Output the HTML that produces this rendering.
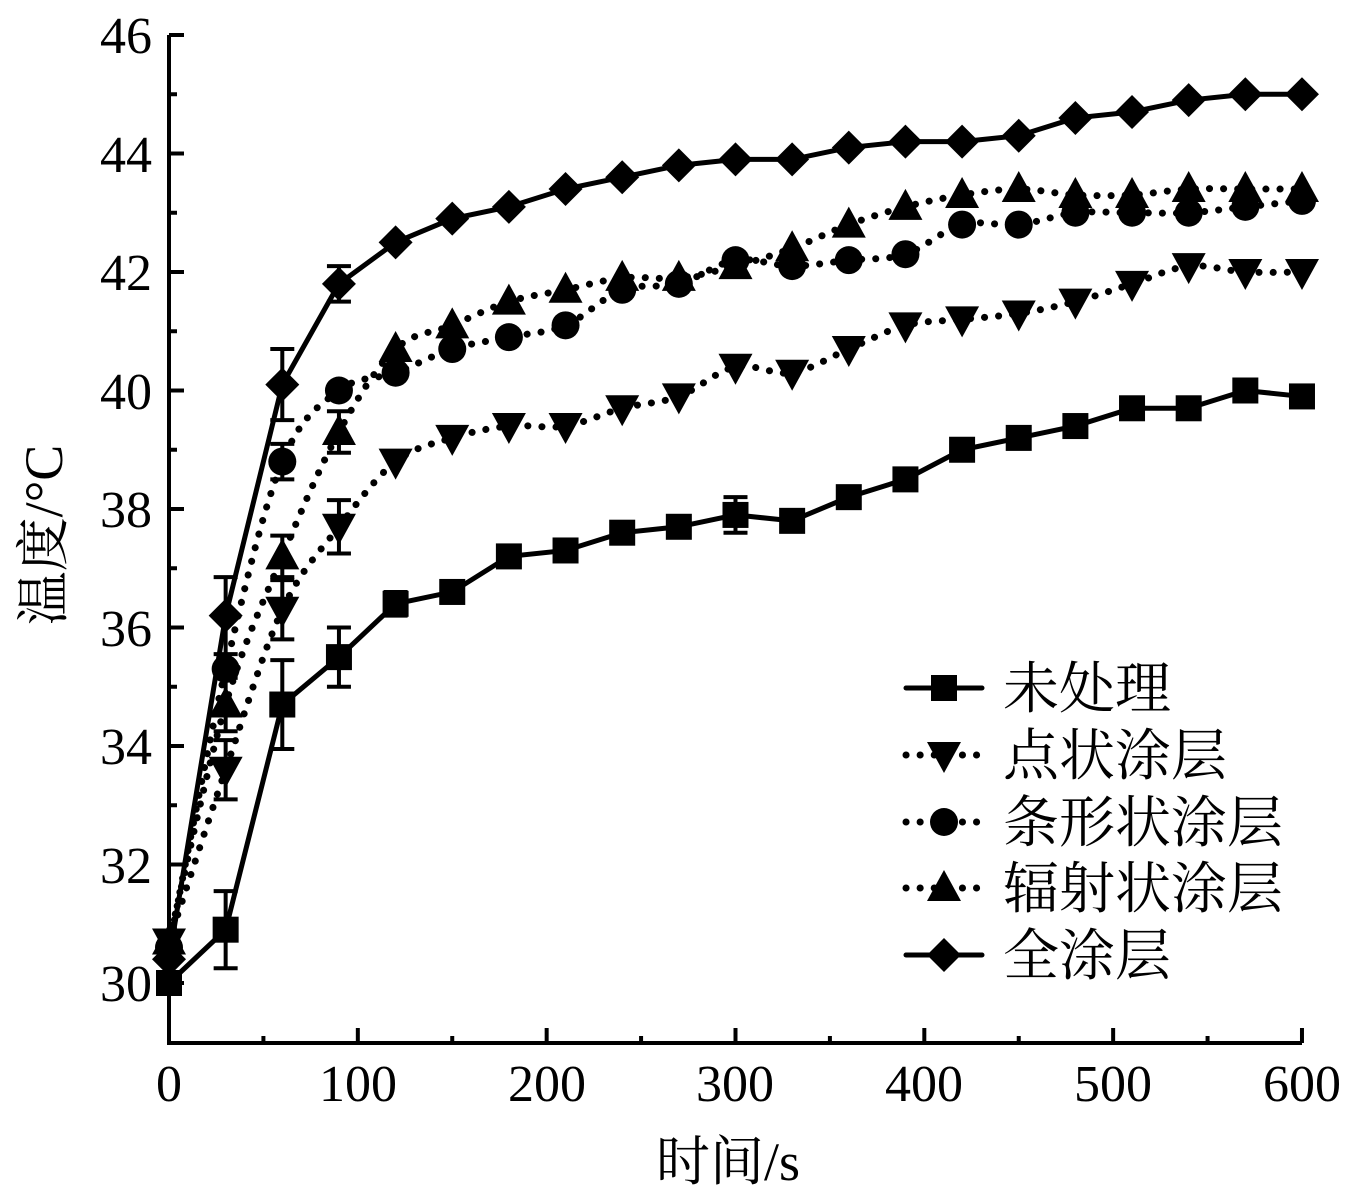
<!DOCTYPE html>
<html><head><meta charset="utf-8"><style>
html,body{margin:0;padding:0;background:#fff;}
svg{display:block}
</style></head><body>
<svg id="s" width="1365" height="1191" xmlns="http://www.w3.org/2000/svg">
<g font-family="'Liberation Serif','Noto Serif CJK SC',serif" fill="#000">
<text x="152" y="53" font-size="52" text-anchor="end">46</text>
<text x="152" y="172" font-size="52" text-anchor="end">44</text>
<text x="152" y="290" font-size="52" text-anchor="end">42</text>
<text x="152" y="409" font-size="52" text-anchor="end">40</text>
<text x="152" y="527" font-size="52" text-anchor="end">38</text>
<text x="152" y="646" font-size="52" text-anchor="end">36</text>
<text x="152" y="764" font-size="52" text-anchor="end">34</text>
<text x="152" y="883" font-size="52" text-anchor="end">32</text>
<text x="152" y="1001" font-size="52" text-anchor="end">30</text>
<text x="169" y="1101" font-size="52" text-anchor="middle">0</text>
<text x="358" y="1101" font-size="52" text-anchor="middle">100</text>
<text x="547" y="1101" font-size="52" text-anchor="middle">200</text>
<text x="735" y="1101" font-size="52" text-anchor="middle">300</text>
<text x="924" y="1101" font-size="52" text-anchor="middle">400</text>
<text x="1113" y="1101" font-size="52" text-anchor="middle">500</text>
<text x="1302" y="1101" font-size="52" text-anchor="middle">600</text>
<text x="728" y="1180" font-size="54" text-anchor="middle">时间/s</text>
<text transform="translate(62,535) rotate(-90)" font-size="54" text-anchor="middle">温度/°C</text>
<text x="1003" y="708" font-size="56">未处理</text>
<text x="1003" y="775" font-size="56">点状涂层</text>
<text x="1003" y="842" font-size="56">条形状涂层</text>
<text x="1003" y="908" font-size="56">辐射状涂层</text>
<text x="1003" y="975" font-size="56">全涂层</text>
</g>
<g id="plot"></g>
</svg>
<script>
var NS="http://www.w3.org/2000/svg",g=document.getElementById('plot');
function el(t,a){var e=document.createElementNS(NS,t);for(var k in a)e.setAttribute(k,a[k]);g.appendChild(e);return e;}
function X(v){return 169+v*1.8883;}
function Y(v){return 983-(v-30)*59.25;}
el('path',{d:'M169,35 L169,1043 L1302,1043',fill:'none',stroke:'#000','stroke-width':4});
for(var v=30;v<=46;v++){var y=Y(v);el('line',{x1:169,x2:v%2==0?184:177,y1:y,y2:y,stroke:'#000','stroke-width':4});}
for(var x=0;x<=600;x+=50){var xx=X(x);el('line',{x1:xx,x2:xx,y1:1043,y2:x%100==0?1028:1036,stroke:'#000','stroke-width':4});}
var xs=[];for(var i=0;i<=20;i++)xs.push(i*30);
var S=[
 {d:[30,30.9,34.7,35.5,36.4,36.6,37.2,37.3,37.6,37.7,37.9,37.8,38.2,38.5,39.0,39.2,39.4,39.7,39.7,40.0,39.9],m:'sq',dot:false,e:{1:0.65,2:0.75,3:0.5,4:0.2,10:0.3}},
 {d:[30.7,33.6,36.3,37.7,38.8,39.2,39.4,39.4,39.7,39.9,40.4,40.3,40.7,41.1,41.2,41.3,41.5,41.8,42.1,42.0,42.0],m:'dn',dot:true,e:{1:0.5,2:0.5,3:0.45}},
 {d:[30.6,35.3,38.8,40.0,40.3,40.7,40.9,41.1,41.7,41.8,42.2,42.1,42.2,42.3,42.8,42.8,43.0,43.0,43.0,43.1,43.2],m:'ci',dot:true,e:{2:0.3}},
 {d:[30.7,34.7,37.2,39.3,40.7,41.1,41.5,41.7,41.9,41.9,42.1,42.4,42.8,43.1,43.3,43.4,43.3,43.3,43.4,43.4,43.4],m:'up',dot:true,e:{1:0.45,2:0.35,3:0.35}},
 {d:[30.4,36.2,40.1,41.8,42.5,42.9,43.1,43.4,43.6,43.8,43.9,43.9,44.1,44.2,44.2,44.3,44.6,44.7,44.9,45.0,45.0],m:'di',dot:false,e:{0:0.4,1:0.65,2:0.6,3:0.3}}
];
function path(pts,smooth){var d='M'+pts[0][0]+','+pts[0][1];
 for(var i=1;i<pts.length;i++){ if(!smooth){d+=' L'+pts[i][0]+','+pts[i][1];continue;}
  var p0=pts[i-2]||pts[i-1],p1=pts[i-1],p2=pts[i],p3=pts[i+1]||p2;
  d+=' C'+(p1[0]+(p2[0]-p0[0])/6)+','+(p1[1]+(p2[1]-p0[1])/6)+' '+(p2[0]-(p3[0]-p1[0])/6)+','+(p2[1]-(p3[1]-p1[1])/6)+' '+p2[0]+','+p2[1];}
 return d;}
function marker(m,x,y){
 if(m=='sq')el('rect',{x:x-13,y:y-13,width:26,height:26});
 if(m=='ci')el('circle',{cx:x,cy:y,r:14});
 if(m=='di')el('polygon',{points:(x)+','+(y-17)+' '+(x+17)+','+y+' '+x+','+(y+17)+' '+(x-17)+','+y});
 if(m=='up')el('polygon',{points:x+','+(y-18)+' '+(x+17)+','+(y+13)+' '+(x-17)+','+(y+13)});
 if(m=='dn')el('polygon',{points:x+','+(y+18)+' '+(x+17)+','+(y-13)+' '+(x-17)+','+(y-13)});
}
S.forEach(function(s){
 var pts=s.d.map(function(v,i){return [X(xs[i]),Y(v)];});
 el('path',{d:path(pts,s.dot),fill:'none',stroke:'#000','stroke-width':s.dot?7:5,'stroke-dasharray':s.dot?'0.1 14':'none','stroke-linecap':'round'});
 for(var k in s.e){var p=pts[k],h=s.e[k]*59.25;
  el('path',{d:'M'+p[0]+','+(p[1]-h)+' L'+p[0]+','+(p[1]+h)+' M'+(p[0]-12)+','+(p[1]-h)+' L'+(p[0]+12)+','+(p[1]-h)+' M'+(p[0]-12)+','+(p[1]+h)+' L'+(p[0]+12)+','+(p[1]+h),stroke:'#000','stroke-width':4,fill:'none'});}
 pts.forEach(function(p){marker(s.m,p[0],p[1]);});
});
var ly=[688,755,822,888,955],lm=['sq','dn','ci','up','di'],ld=[false,true,true,true,false];
for(var i=0;i<5;i++){
 el('line',{x1:906,x2:982,y1:ly[i],y2:ly[i],stroke:'#000','stroke-width':ld[i]?7:5,'stroke-dasharray':ld[i]?'0.1 14':'none','stroke-linecap':'round'});
 marker(lm[i],944,ly[i]);
}
</script>
</body></html>
